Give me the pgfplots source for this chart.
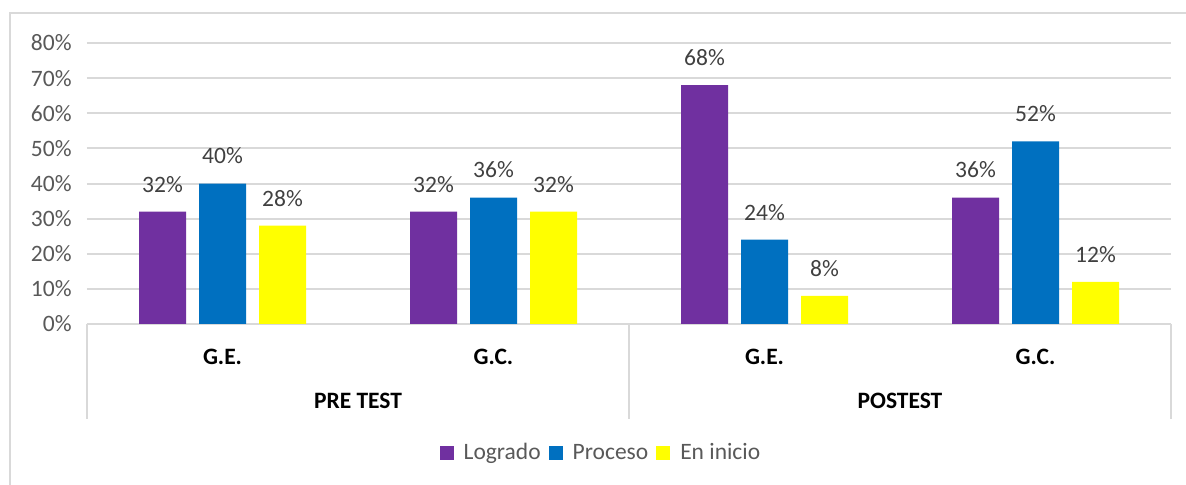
\documentclass[border=0pt]{standalone}
\usepackage{fontspec}
\setmainfont{Carlito}
\usepackage{pgfplots}
\pgfplotsset{compat=1.18}
\definecolor{cPurple}{HTML}{7030A0}
\definecolor{cBlue}{HTML}{0070C0}
\definecolor{cYellow}{HTML}{FFFF00}
\definecolor{gridgray}{HTML}{D9D9D9}
\definecolor{tickgray}{HTML}{595959}
\definecolor{labgray}{HTML}{404040}
\newcommand\f{\fontsize{11.75pt}{14pt}\selectfont}
\begin{document}
\begin{tikzpicture}
\draw[gridgray, line width=1pt] (5pt,-10pt) rectangle (600pt,236pt);
\begin{axis}[
  at={(43.5pt,80.5pt)}, anchor=south west,
  width=542pt, height=140.5pt, scale only axis,
  xmin=-0.5, xmax=3.5, ymin=0, ymax=80,
  clip=false,
  ybar,
  bar width=23.5pt,
  axis line style={draw=none},
  major tick length=0pt,
  xtick={0,1,2,3},
  xticklabels={G.E.,G.C.,G.E.,G.C.},
  xticklabel style={font=\f\bfseries, text=black, anchor=center, inner sep=0pt, yshift=-16.5pt},
  ytick={0,10,...,80},
  yticklabel={\pgfmathprintnumber{\tick}\%},
  yticklabel style={font=\f, text=tickgray, anchor=east, inner sep=0pt, xshift=-7.5pt},
  /pgf/number format/assume math mode=true,
  ymajorgrids,
  grid style={gridgray, line width=1pt},
  nodes near coords={\pgfmathprintnumber{\pgfplotspointmeta}\%},
  nodes near coords style={font=\f, text=labgray, anchor=south, inner sep=0pt, yshift=9.5pt, /pgf/number format/assume math mode=true},
  legend columns=3,
  legend style={at={(0.4732,-0.459)}, anchor=center, draw=none, font=\f, text=tickgray,
    /tikz/every odd column/.append style={column sep=5pt},
    /tikz/every even column/.append style={column sep=4pt},
    nodes={inner xsep=0pt}},
  legend image code/.code={\draw[#1, draw=none] (0pt,-3.5pt) rectangle (7pt,3.5pt);},
]
\addplot[fill=cPurple, draw=none, bar shift=-30pt] coordinates {(0,32) (1,32) (2,68) (3,36)};
\addplot[fill=cBlue, draw=none, bar shift=0pt] coordinates {(0,40) (1,36) (2,24) (3,52)};
\addplot[fill=cYellow, draw=none, bar shift=30pt] coordinates {(0,28) (1,32) (2,8) (3,12)};
\legend{Logrado,Proceso,En inicio}
\draw[gridgray, line width=1pt] (axis cs:-0.5,0) -- ++(0pt,-47.5pt);
\draw[gridgray, line width=1pt] (axis cs:1.5,0) -- ++(0pt,-47.5pt);
\draw[gridgray, line width=1pt] (axis cs:3.5,0) -- ++(0pt,-47.5pt);
\node[font=\f\bfseries, text=black, inner sep=0pt] at (axis cs:0.5,0) [yshift=-38.35pt] {PRE TEST};
\node[font=\f\bfseries, text=black, inner sep=0pt] at (axis cs:2.5,0) [yshift=-38.35pt] {POSTEST};
\end{axis}
\pgfresetboundingbox
\useasboundingbox (0,0) rectangle (593pt,242.5pt);
\end{tikzpicture}
\end{document}
